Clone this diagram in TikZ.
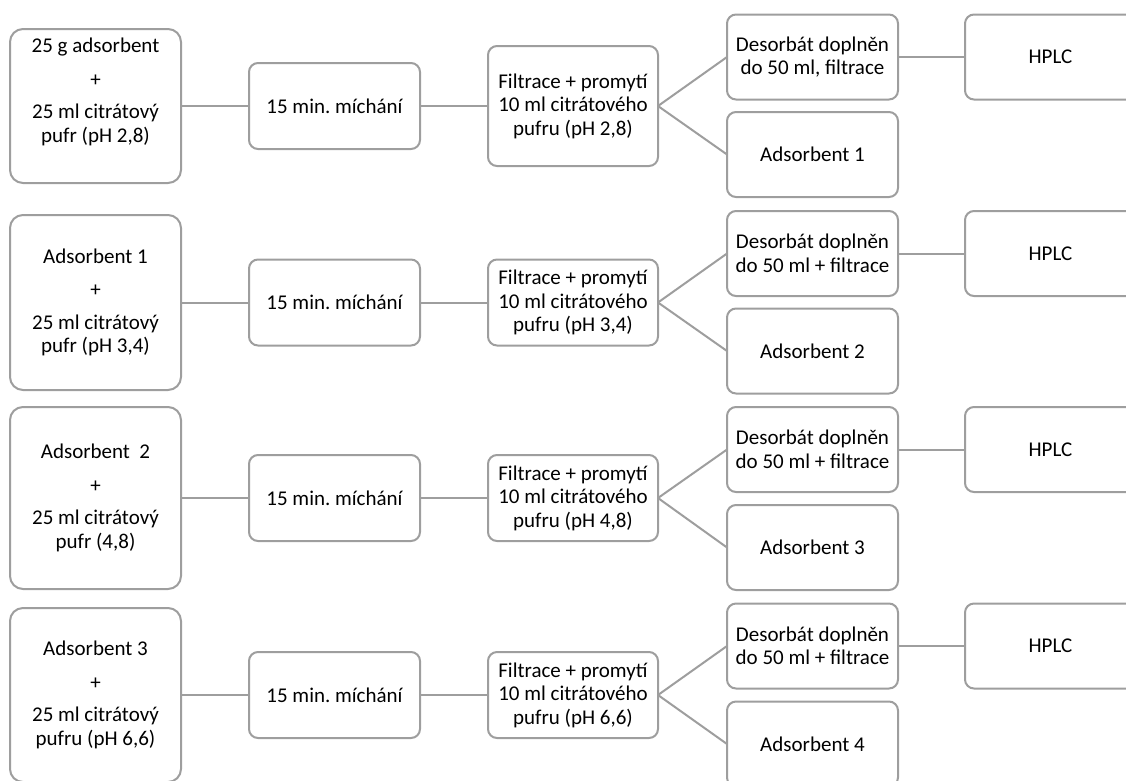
\documentclass[tikz,border=0pt]{standalone}
\usepackage{fontspec}
\setmainfont{Carlito}
\usetikzlibrary{positioning}
\definecolor{boxgray}{RGB}{158,158,158}
\tikzset{
  stepbox/.style={draw=boxgray,line width=2pt,fill=white,rounded corners=9pt,
    minimum width=171pt,minimum height=85pt,align=center,inner sep=2pt,outer sep=0pt,
    font=\fontsize{21pt}{23.5pt}\selectfont\frenchspacing},
  startbox/.style={stepbox,rounded corners=13pt},
  filtbox/.style={stepbox,minimum width=170pt,minimum height=86pt},
  ln/.style={draw=boxgray,line width=2pt},
}
\begin{document}
\begin{tikzpicture}[x=1pt,y=-1pt,node distance=68pt]
  \useasboundingbox (0,0) rectangle (1126,780);
  \clip (0,0) rectangle (1126,780);

  % pH 2,8
  \node[startbox,minimum height=154pt](start1) at (95.5,106)
    {25 g adsorbent\\[10pt]+\\[9pt]25 ml citrátový\\pufr (pH 2,8)\rule[-32pt]{0pt}{1pt}};
  \node[stepbox,minimum height=86pt,right=of start1](mix1){15 min. míchání};
  \node[filtbox,minimum height=120pt,right=of mix1](filt1)
    {Filtrace + promytí\\10 ml citrátového\\pufru (pH 2,8)};
  \node[stepbox,right=69pt of filt1,yshift=49pt](des1){Desorbát doplněn\\do 50 ml, filtrace};
  \node[stepbox,right=69pt of filt1,yshift=-48.5pt](ads1){Adsorbent 1};
  \node[stepbox,right=67pt of des1](hplc1){HPLC};

  % pH 3,4
  \node[startbox,minimum height=175pt](start2) at (95.5,302.5)
    {Adsorbent 1\\[10pt]+\\[9pt]25 ml citrátový\\pufr (pH 3,4)};
  \node[stepbox,minimum height=86pt,right=of start2](mix2){15 min. míchání};
  \node[filtbox,right=of mix2](filt2)
    {Filtrace + promytí\\10 ml citrátového\\pufru (pH 3,4)};
  \node[stepbox,right=69pt of filt2,yshift=49pt](des2){Desorbát doplněn\\do 50 ml + filtrace};
  \node[stepbox,right=69pt of filt2,yshift=-48.5pt](ads2){Adsorbent 2};
  \node[stepbox,right=67pt of des2](hplc2){HPLC};

  % pH 4,8
  \node[startbox,minimum height=182pt](start3) at (95.5,498)
    {Adsorbent~~2\\[10pt]+\\[9pt]25 ml citrátový\\pufr (4,8)};
  \node[stepbox,minimum height=86pt,right=of start3](mix3){15 min. míchání};
  \node[filtbox,right=of mix3](filt3)
    {Filtrace + promytí\\10 ml citrátového\\pufru (pH 4,8)};
  \node[stepbox,right=69pt of filt3,yshift=48.5pt](des3){Desorbát doplněn\\do 50 ml + filtrace};
  \node[stepbox,right=69pt of filt3,yshift=-49.5pt](ads3){Adsorbent 3};
  \node[stepbox,right=67pt of des3](hplc3){HPLC};

  % pH 6,6
  \node[startbox,minimum height=174pt](start4) at (95.5,695)
    {Adsorbent 3\\[10pt]+\\[9pt]25 ml citrátový\\pufru (pH 6,6)};
  \node[stepbox,minimum height=86pt,right=of start4](mix4){15 min. míchání};
  \node[filtbox,right=of mix4](filt4)
    {Filtrace + promytí\\10 ml citrátového\\pufru (pH 6,6)};
  \node[stepbox,right=69pt of filt4,yshift=49pt](des4){Desorbát doplněn\\do 50 ml + filtrace};
  \node[stepbox,right=69pt of filt4,yshift=-49pt](ads4){Adsorbent 4};
  \node[stepbox,right=67pt of des4](hplc4){HPLC};

  \draw[ln](start1.east)--(mix1.west);
  \draw[ln](mix1.east)--(filt1.west);
  \draw[ln](filt1.east)--(des1.west);
  \draw[ln](filt1.east)--(ads1.west);
  \draw[ln](des1.east)--(hplc1.west);

  \draw[ln](start2.east)--(mix2.west);
  \draw[ln](mix2.east)--(filt2.west);
  \draw[ln](filt2.east)--(des2.west);
  \draw[ln](filt2.east)--(ads2.west);
  \draw[ln](des2.east)--(hplc2.west);

  \draw[ln](start3.east)--(mix3.west);
  \draw[ln](mix3.east)--(filt3.west);
  \draw[ln](filt3.east)--(des3.west);
  \draw[ln](filt3.east)--(ads3.west);
  \draw[ln](des3.east)--(hplc3.west);

  \draw[ln](start4.east)--(mix4.west);
  \draw[ln](mix4.east)--(filt4.west);
  \draw[ln](filt4.east)--(des4.west);
  \draw[ln](filt4.east)--(ads4.west);
  \draw[ln](des4.east)--(hplc4.west);
\end{tikzpicture}
\end{document}
